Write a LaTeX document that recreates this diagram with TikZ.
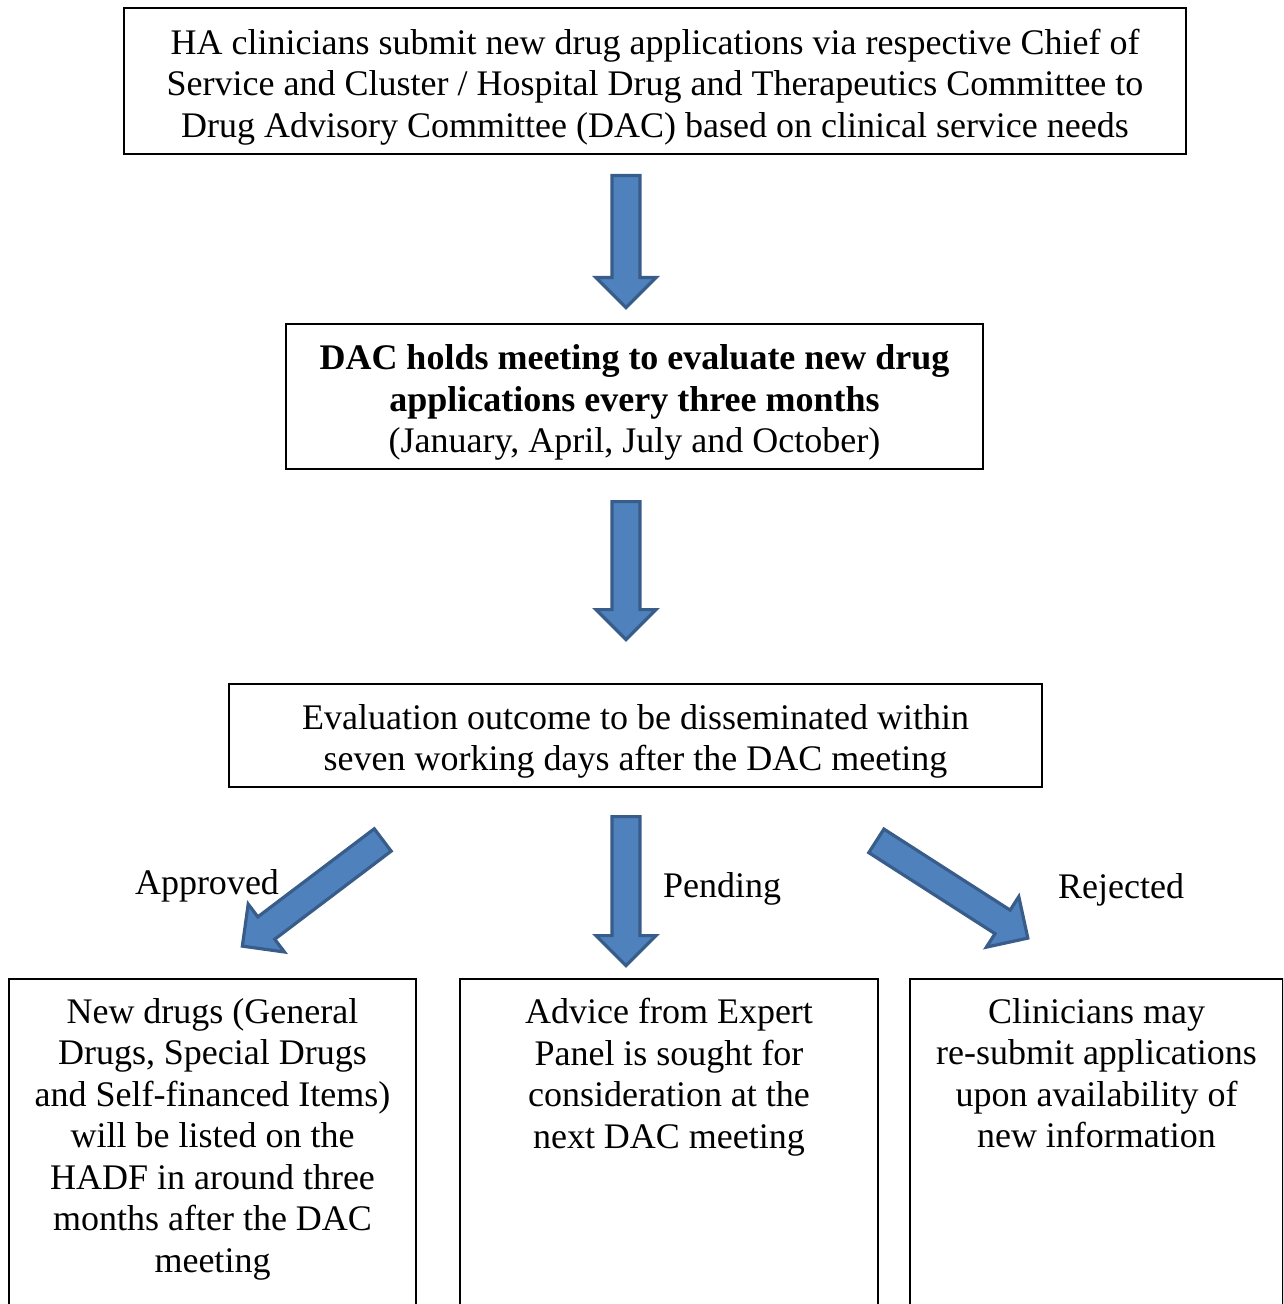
\documentclass[tikz,border=0pt]{standalone}
\usepackage{fontspec}
\setmainfont{Liberation Serif}
\usetikzlibrary{shapes.arrows,positioning}
\definecolor{arrowfill}{HTML}{4F81BD}
\definecolor{arrowline}{HTML}{385D8A}

\begin{document}
\begin{tikzpicture}[x=0.5pt,y=-0.5pt,
    box/.style={draw, line width=1pt, inner sep=0pt},
    boxtext/.style={align=center, inner sep=0pt},
    blockarrow/.style={single arrow, draw=arrowline, fill=arrowfill, line width=1.6pt,
        inner xsep=0pt, inner ysep=6.2pt, minimum width=0pt, anchor=tail,
        single arrow head extend=8pt, single arrow tip angle=90},
    every node/.append style={font=\fontsize{18pt}{20.75pt}\selectfont}]
    \useasboundingbox (0,0) rectangle (1283,1304);
    \clip (0,0) rectangle (1283,1304);

    % boxes
    \node[box, minimum width=531pt, minimum height=73pt] (submit) at (655,81) {};
    \node[box, minimum width=348.5pt, minimum height=72.5pt] (dac) at (634.5,396.5) {};
    \node[box, minimum width=406.5pt, minimum height=51.5pt] (outcome) at (635.5,735.5) {};
    \node[box, minimum width=203.5pt, minimum height=200pt, anchor=north west] (listed) at (8,978) {};
    \node[box, minimum width=209pt, minimum height=200pt, anchor=north west] (expert) at (459,978) {};
    \node[box, minimum width=186.5pt, minimum height=200pt, anchor=north west] (resubmit) at (909,978) {};

    % texts
    \node[boxtext, yshift=-3pt] (submittxt) at (submit)
        {HA clinicians submit new drug applications via respective Chief of\\
         Service and Cluster / Hospital Drug and Therapeutics Committee to\\
         Drug Advisory Committee (DAC) based on clinical service needs};
    \node[boxtext, yshift=-3pt] (dactxt) at (dac)
        {\textbf{DAC holds meeting to evaluate new drug}\\
         \textbf{applications every three months}\\
         (January, April, July and October)};
    \node[boxtext, yshift=-3pt] (outcometxt) at (outcome)
        {Evaluation outcome to be disseminated within\\
         seven working days after the DAC meeting};
    \node[boxtext, anchor=north, yshift=-10pt] (listedtxt) at (listed.north)
        {New drugs (General\\ Drugs, Special Drugs\\ and Self-financed Items)\\
         will be listed on the\\ HADF in around three\\ months after the DAC\\ meeting};
    \node[boxtext, anchor=north, yshift=-10pt] (experttxt) at (expert.north)
        {Advice from Expert\\ Panel is sought for\\ consideration at the\\ next DAC meeting};
    \node[boxtext, anchor=north, yshift=-10pt] (resubmittxt) at (resubmit.north)
        {Clinicians may\\ re-submit applications\\ upon availability of\\ new information};

    % block arrows
    \node[blockarrow, minimum height=66pt, rotate=-90] (arrowone) at (626,174) {};
    \node[blockarrow, minimum height=69pt, rotate=-90] (arrowtwo) at (626,500) {};
    \node[blockarrow, minimum height=74.5pt, rotate=-90] (pendarrow) at (626,815) {};
    \node[blockarrow, minimum height=88pt, rotate=217.1] (apparrow) at (384,839) {};
    \node[blockarrow, minimum height=90pt, rotate=-32.7] (rejarrow) at (875,840) {};

    \node (approved) at (207,886) {Approved};
    \node (pending) at (722,889) {Pending};
    \node (rejected) at (1121,890) {Rejected};
\end{tikzpicture}
\end{document}
